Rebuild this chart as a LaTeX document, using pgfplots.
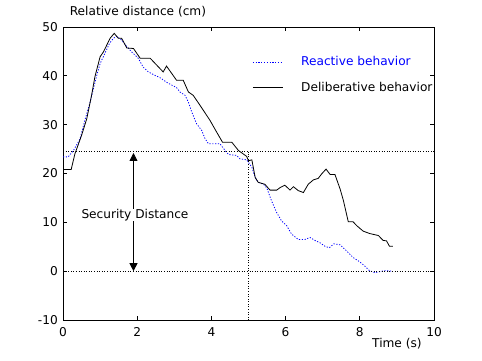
\documentclass[border=0pt]{standalone}
\usepackage{fontspec}
\setmainfont{DejaVu Sans}
\usepackage{pgfplots}
\pgfplotsset{compat=1.18}
\usetikzlibrary{arrows.meta}
\begin{document}
\fontsize{12.2}{14}\selectfont
\begin{tikzpicture}
\useasboundingbox (-63bp,-41bp) rectangle (419bp,320bp);
\begin{axis}[
  at={(0,0)}, anchor=south west,
  scale only axis, width=371bp, height=293bp,
  xmin=0, xmax=10, ymin=-10, ymax=50,
  xtick={0,2,4,6,8,10}, ytick={-10,0,10,20,30,40,50},
  tick align=inside, major tick length=4bp,
  xtick pos=both, ytick pos=both,
  /pgf/number format/assume math mode=true,
  tick label style={font=\fontsize{12.2}{14}\selectfont},
  xticklabel style={yshift=-3bp},
  yticklabel style={xshift=-1bp},
  axis line style={line width=0.8pt},
  every tick/.style={black, line width=0.8pt},
  legend style={draw=none, fill=none, at={(rel axis cs:0.51,0.907)}, anchor=north west,
    font=\fontsize{12.2}{14}\selectfont, row sep=10.5bp, inner sep=0pt,
    /tikz/every odd column/.append style={column sep=16bp}},
  legend cell align=left,
  legend image code/.code={\draw[#1] (0bp,0bp) -- (30bp,0bp);},
  clip=false,
]
\addplot[blue, line width=0.8pt, dash pattern=on 1.2pt off 1.6pt] coordinates {
(0,23.4) (0.14,23.4) (0.28,24.7) (0.46,27.1) (0.59,30.9) (0.73,34.6) (0.91,40.1) (1.0,42.5)
(1.13,44.6) (1.25,46.6) (1.36,47.7) (1.45,48.1) (1.58,47.3) (1.72,46) (1.85,44.9) (2.03,43.6)
(2.16,41.8) (2.3,40.8) (2.48,40.1) (2.62,39.6) (2.79,38.7) (2.93,38.1) (3.06,37.6) (3.15,36.7)
(3.29,36) (3.38,34.6) (3.47,32.6) (3.6,30.2) (3.74,28.8) (3.83,27.1) (3.92,26.1) (4.23,26.1)
(4.37,24.7) (4.46,23.9) (4.68,23.7) (4.77,23) (4.95,22.8) (5.09,21.3) (5.18,19.2) (5.26,18.2)
(5.4,17.8) (5.49,17.1) (5.62,14.4) (5.76,12) (5.89,10.3) (6.03,9.3) (6.16,7.6) (6.34,6.5)
(6.52,6.5) (6.66,6.9) (6.79,6.3) (6.93,5.8) (7.06,5.1) (7.18,4.8) (7.3,5.6) (7.47,5.4)
(7.65,4.1) (7.82,2.8) (8.0,1.9) (8.14,1.0) (8.26,0.1) (8.41,-0.3) (8.54,-0.1) (8.68,0.1) (8.86,0)
};
\addlegendentry{\textcolor{blue}{Reactive behavior}}
\addplot[black, line width=0.8pt] coordinates {
(0,20.8) (0.22,20.8) (0.32,24) (0.5,27.8) (0.64,31.2) (0.77,36) (0.86,39.8) (1.0,43.9)
(1.09,44.9) (1.27,47.7) (1.38,48.7) (1.49,47.7) (1.58,47.7) (1.72,45.7) (1.9,45.6) (2.08,43.6)
(2.35,43.6) (2.7,40.8) (2.79,42) (3.06,39.1) (3.24,39.1) (3.38,36.7) (3.51,36) (3.69,34)
(3.96,30.9) (4.14,28.5) (4.3,26.4) (4.55,26.4) (4.73,24.7) (4.86,24) (4.95,23.5) (5.0,22.6)
(5.09,22.8) (5.18,19.2) (5.26,18.2) (5.44,17.8) (5.58,16.6) (5.76,16.6) (5.85,17.1) (5.98,17.6)
(6.12,16.6) (6.21,17.3) (6.34,16.5) (6.48,16.1) (6.61,17.8) (6.75,18.7) (6.88,19) (6.97,19.9)
(7.09,20.9) (7.2,19.8) (7.33,19.8) (7.47,16.8) (7.56,14.4) (7.69,10.1) (7.82,10.1) (7.92,9.3)
(8.09,8.2) (8.27,7.7) (8.5,7.3) (8.63,6.3) (8.72,6.2) (8.8,5.1) (8.89,5.1)
};
\addlegendentry{Deliberative behavior}
\addplot[black, line width=0.6pt, dotted, forget plot] coordinates {(0,24.5) (10,24.5)};
\addplot[black, line width=0.6pt, dotted, forget plot] coordinates {(0,0) (10,0)};
\addplot[black, line width=0.6pt, dotted, forget plot] coordinates {(5,-10) (5,24.5)};
\addplot[black, line width=0.8pt, {Triangle[length=8bp,width=8bp]}-{Triangle[length=8bp,width=8bp]}, forget plot]
  coordinates {(1.9,0) (1.9,24.2)};
\node[fill=white, inner sep=0.5bp] at (axis cs:1.94,11.5) {Security Distance};
\node at (rel axis cs:0.9,0) [yshift=-24bp] {Time (s)};
\node at (rel axis cs:0.202,1) [yshift=15bp] {Relative distance (cm)};
\end{axis}
\end{tikzpicture}
\end{document}
